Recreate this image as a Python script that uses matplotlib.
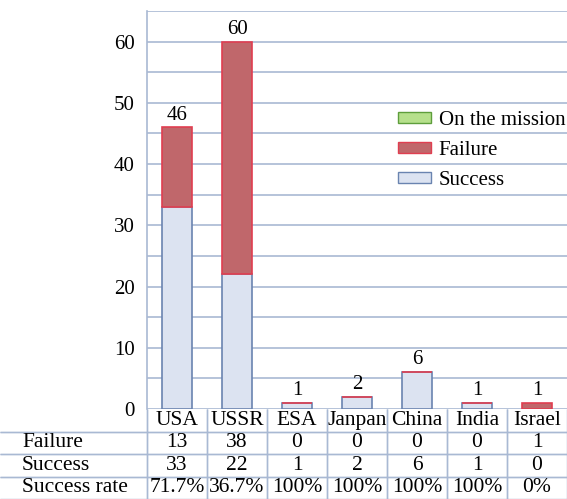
import numpy as np
import matplotlib
matplotlib.use("Agg")
import matplotlib.pyplot as plt
from matplotlib.patches import Patch

plt.rcParams['font.family'] = ['Liberation Serif', 'DejaVu Serif']

# data
countries = ["USA", "USSR", "ESA", "Janpan", "China", "India", "Israel"]
failure = [13, 38, 0, 0, 0, 0, 1]
success = [33, 22, 1, 2, 6, 1, 0]
on_mission = [0, 0, 0, 0, 0, 0, 0]
row_names = ["Failure", "Success", "Success rate"]
rate_labels = ["71.7%", "36.7%", "100%", "100%", "100%", "100%", "0%"]

grid_c = '#a9b9d3'
succ_face, succ_edge = '#dce3f1', '#6a84b0'
fail_face, fail_edge = '#c0676b', '#e03e50'
mis_face, mis_edge = '#b6e08c', '#5e9e3c'

fig = plt.figure(figsize=(5.67, 4.99), dpi=100)
W, H = 567, 499
ax = fig.add_axes([147 / W, (H - 409) / H, 420 / W, 398 / H])

x = np.arange(len(countries))
totals = np.array(failure) + np.array(success) + np.array(on_mission)

ax.bar(x, success, width=0.5, color=succ_face, edgecolor=succ_edge, linewidth=1.2, zorder=3)
ax.bar(x, failure, width=0.5, bottom=success, color=fail_face, edgecolor=fail_edge,
       linewidth=1.2, zorder=3)

for xi, t in zip(x, totals):
    ax.annotate(str(t), (xi, t), xytext=(0, 2), textcoords='offset points',
                ha='center', va='bottom', fontsize=15)

ax.set_xlim(-0.5, 6.5)
ax.set_ylim(0, 65)
ax.set_yticks(np.arange(0, 61, 10))
ax.set_yticks(np.arange(5, 66, 10), minor=True)
ax.grid(True, which='both', axis='y', color=grid_c, linewidth=1.2, zorder=0)
ax.set_xticks([])
ax.tick_params(axis='y', which='both', length=0, pad=9, labelsize=15)
for s in ['top', 'right', 'bottom']:
    ax.spines[s].set_visible(False)
ax.spines['left'].set_color(grid_c)
ax.spines['left'].set_linewidth(1.2)

handles = [Patch(facecolor=mis_face, edgecolor=mis_edge, label='On the mission'),
           Patch(facecolor=fail_face, edgecolor=fail_edge, label='Failure'),
           Patch(facecolor=succ_face, edgecolor=succ_edge, label='Success')]
ax.legend(handles=handles, loc='center left', bbox_to_anchor=(0.598, 0.650),
          frameon=False, fontsize=15, handlelength=1.6, handleheight=0.4,
          handletextpad=0.35, labelspacing=0.53, borderpad=0, borderaxespad=0)

# table below the bars: first column holds the row names
cell_text = [[name] + vals for name, vals in
             zip(row_names, [[str(v) for v in failure], [str(v) for v in success], rate_labels])]
tab = ax.table(cellText=cell_text, colLabels=[""] + countries, cellLoc='center',
               bbox=[-147 / 420, -90 / 398, 567 / 420, 90 / 398])
tab.auto_set_font_size(False)
tab.set_fontsize(15.5)
for (r, c), cell in tab.get_celld().items():
    cell.set_edgecolor(grid_c)
    cell.set_linewidth(1.0)
    cell.set_facecolor('none')
    if c == 0:
        cell.set_width(147)
        if r == 0:
            cell.visible_edges = 'BR'
        else:
            cell.visible_edges = 'TBR'
            cell._loc = 'left'
            cell.PAD = 0.15
            cell.get_text().set_ha('left')
    else:
        cell.set_width(60)
        if r == 0:
            cell.visible_edges = 'BLR'

fig.savefig("out.png", dpi=100)
